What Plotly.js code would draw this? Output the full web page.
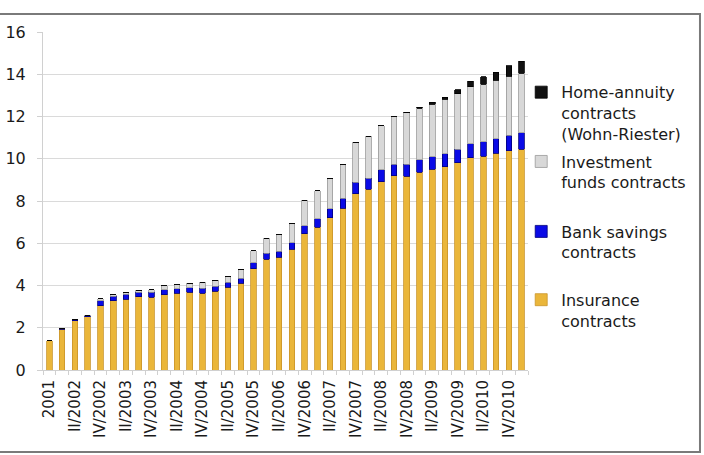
<!DOCTYPE html>
<html>
<head>
<meta charset="utf-8">
<script src="https://cdn.plot.ly/plotly-3.0.1.min.js"></script>
<style>
html,body{margin:0;padding:0;background:#fff;}
#chart{width:704px;height:455px;}
</style>
</head>
<body>
<div id="chart"></div>
<script>
var categories = ["2001","I/2002","II/2002","III/2002","IV/2002","I/2003","II/2003","III/2003","IV/2003",
  "I/2004","II/2004","III/2004","IV/2004","I/2005","II/2005","III/2005","IV/2005",
  "I/2006","II/2006","III/2006","IV/2006","I/2007","II/2007","III/2007","IV/2007",
  "I/2008","II/2008","III/2008","IV/2008","I/2009","II/2009","III/2009","IV/2009",
  "I/2010","II/2010","III/2010","IV/2010","I/2011"];
var tickLabels = ["2001","","II/2002","","IV/2002","","II/2003","","IV/2003",
  "","II/2004","","IV/2004","","II/2005","","IV/2005",
  "","II/2006","","IV/2006","","II/2007","","IV/2007",
  "","II/2008","","IV/2008","","II/2009","","IV/2009",
  "","II/2010","","IV/2010",""];
var insurance = [1.39,1.92,2.32,2.52,3.05,3.27,3.36,3.46,3.45,3.56,3.63,3.67,3.64,3.73,3.91,4.10,4.80,
  5.24,5.33,5.72,6.45,6.76,7.20,7.66,8.35,8.55,8.92,9.20,9.18,9.36,9.50,9.62,9.80,10.05,10.13,10.26,10.37,10.45];
var bankSavings = [0,0.03,0.05,0.06,0.22,0.21,0.22,0.23,0.24,0.23,0.22,0.23,0.23,0.24,0.24,0.25,0.27,
  0.29,0.29,0.30,0.37,0.41,0.44,0.47,0.53,0.52,0.55,0.55,0.57,0.59,0.60,0.62,0.65,0.66,0.68,0.68,0.74,0.77];
var investmentFunds = [0,0,0,0.02,0.10,0.08,0.09,0.09,0.11,0.19,0.21,0.20,0.29,0.29,0.29,0.42,0.58,
  0.70,0.81,0.93,1.22,1.32,1.44,1.59,1.89,2.00,2.09,2.25,2.42,2.45,2.49,2.57,2.62,2.69,2.72,2.77,2.79,2.82];
var homeAnnuity = [0,0,0,0,0,0,0,0,0,0,0,0,0,0,0,0,0,
  0,0,0,0,0,0,0,0,0,0,0,0.03,0.04,0.08,0.11,0.19,0.27,0.35,0.39,0.50,0.58];

var FONT = "DejaVu Sans, Verdana, sans-serif";
var legendFont = {family: FONT, size: 16, color: "#1a1a1a"};

var traces = [
  {type:"bar", x:categories, y:insurance, name:"Insurance<br>contracts",
   marker:{color:"#EAB63A", line:{color:"#C9952B", width:0.8}}, legend:"legend4"},
  {type:"bar", x:categories, y:bankSavings, name:"Bank savings<br>contracts",
   marker:{color:"#0A0AE6", line:{color:"#00007A", width:0.8}}, legend:"legend3"},
  {type:"bar", x:categories, y:investmentFunds, name:"Investment<br>funds contracts",
   marker:{color:"#D8D8D8", line:{color:"#9A9A9A", width:0.8}}, legend:"legend2"},
  {type:"bar", x:categories, y:homeAnnuity, name:"Home-annuity<br>contracts<br>(Wohn-Riester)",
   marker:{color:"#111111", line:{color:"#000000", width:0.8}}, legend:"legend"}
];

function lg(yv){
  return {x:0.986, y:yv, xanchor:"left", yanchor:"top", valign:"top",
    font:legendFont, bgcolor:"rgba(0,0,0,0)", borderwidth:0, itemwidth:30,
    tracegroupgap:0};
}

var layout = {
  width:704, height:455,
  margin:{l:43, r:176, t:32, b:85, autoexpand:false},
  paper_bgcolor:"#fff", plot_bgcolor:"#fff",
  barmode:"stack", bargap:0.56,
  showlegend:true,
  legend: lg(0.872),
  legend2: lg(0.667),
  legend3: lg(0.46),
  legend4: lg(0.258),
  xaxis:{type:"category", tickmode:"array", tickvals:categories, ticktext:tickLabels,
    tickangle:-90, tickfont:{family:FONT, size:15, color:"#1a1a1a"},
    showgrid:false, showline:true, linecolor:"#D0D0D0", linewidth:1,
    ticks:"outside", tickson:"boundaries", ticklen:4, tickcolor:"#D0D0D0",
    ticklabelstandoff:3,
    range:[-0.5, 37.5], automargin:false},
  yaxis:{range:[0,16], dtick:2, tickfont:{family:FONT, size:16, color:"#1a1a1a"},
    showgrid:true, gridcolor:"#DADADA", gridwidth:1, zeroline:false,
    showline:true, linecolor:"#D0D0D0", linewidth:1,
    ticks:"outside", ticklen:5, tickcolor:"#D0D0D0", ticklabelstandoff:8,
    automargin:false},
  shapes:[
    {type:"rect", xref:"paper", yref:"paper", x0:-0.1, x1:1.3546, y0:-0.2426, y1:1.0533,
     line:{color:"#7A7A7A", width:2}, fillcolor:"rgba(0,0,0,0)", layer:"below"}
  ]
};

Plotly.newPlot("chart", traces, layout, {displayModeBar:false, staticPlot:true});
</script>
</body>
</html>
